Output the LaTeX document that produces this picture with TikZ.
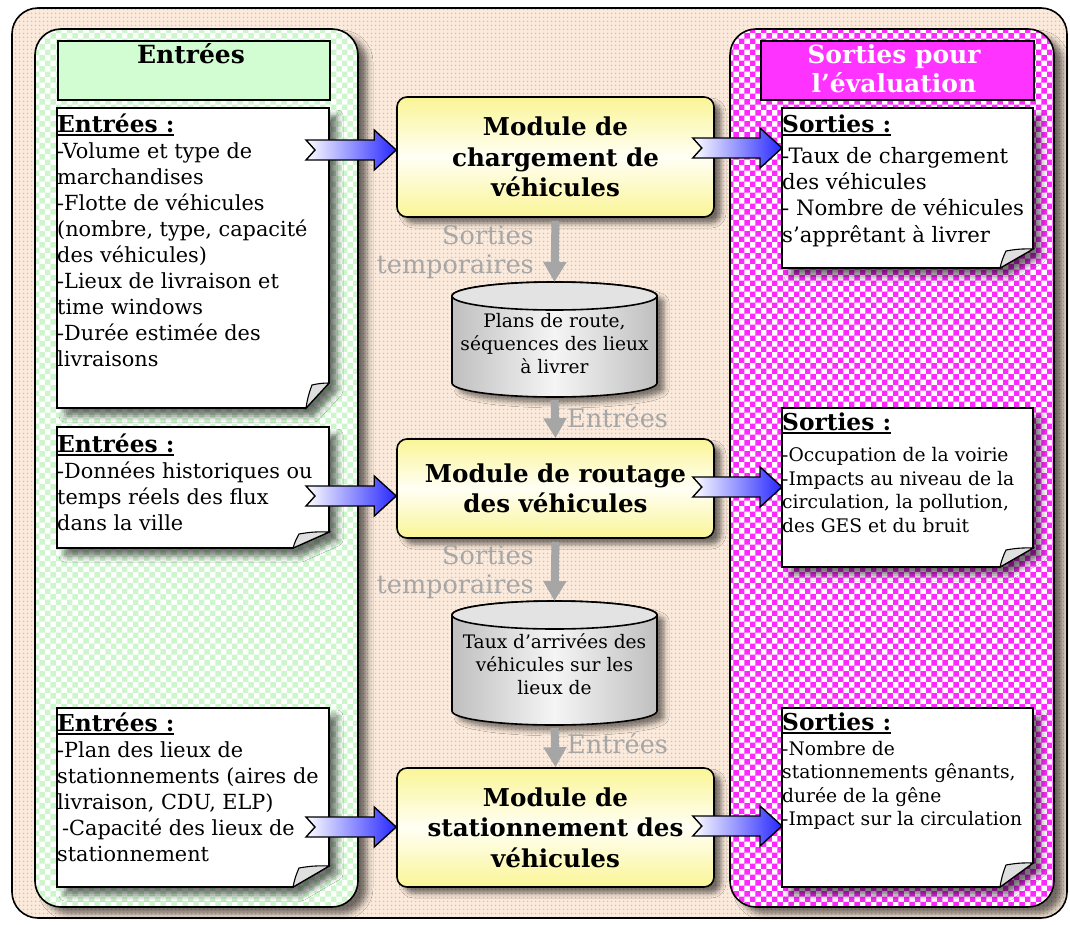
\documentclass[tikz,border=0pt]{standalone}
\usepackage{fontspec}
\setmainfont{DejaVu Serif}
\usetikzlibrary{arrows.meta,calc,patterns,patterns.meta,shadows.blur}
\definecolor{arrowblue}{RGB}{40,40,255}
\definecolor{hdrgreen}{RGB}{210,252,210}
\definecolor{hdrpink}{RGB}{255,51,255}
\definecolor{modyel}{RGB}{250,245,150}
\definecolor{flowgray}{RGB}{166,166,166}
\definecolor{peachbase}{RGB}{252,235,220}
\definecolor{peachdot}{RGB}{247,184,132}
\definecolor{mintdot}{RGB}{205,246,205}
\definecolor{pinkdot}{RGB}{255,40,255}
\newcommand\docfont{\fontsize{20.8}{26}\selectfont}
\newcommand\headfont{\bfseries\fontsize{23.3}{26}\selectfont}
\newcommand\ulhead[1]{\leavevmode\setbox0\hbox{\headfont #1}\rlap{\rule[-3.5pt]{\wd0}{1.6pt}}\box0}
\tikzset{
  frame/.style={fill=peachbase,
    postaction={pattern={Dots[radius=1.1pt,distance=4pt]}, pattern color=peachdot},
    postaction={draw=black, line width=1.6pt}},
  greenpanel/.style={fill=white,
    blur shadow={shadow xshift=9pt, shadow yshift=-7pt, shadow blur radius=6pt, shadow opacity=55},
    postaction={pattern=checkerboard, pattern color=mintdot},
    postaction={draw=black, line width=1.6pt}},
  pinkpanel/.style={fill=white,
    blur shadow={shadow xshift=9pt, shadow yshift=-7pt, shadow blur radius=6pt, shadow opacity=55},
    postaction={pattern=checkerboard, pattern color=pinkdot},
    postaction={draw=black, line width=1.6pt}},
  hdrbox/.style={draw=black, line width=1.6pt, rectangle, inner sep=0, anchor=north west},
  hdrtext/.style={anchor=base, inner sep=0, font=\bfseries\fontsize{25}{29}\selectfont},
  docnode/.style={rectangle, inner sep=0, outer sep=0, anchor=north west},
  paper/.style={draw=black, line width=1.6pt, fill=white,
    blur shadow={shadow xshift=8pt, shadow yshift=-8pt, shadow blur radius=6pt, shadow opacity=55}},
  flap/.style={draw=black, line width=1.1pt, fill=gray!25},
  doctext/.style={anchor=base west, inner sep=0},
  module/.style={draw=black, line width=1.6pt, rounded corners=10pt, minimum width=317,
    align=center, inner sep=0, font=\bfseries\fontsize{24.6}{30.5}\selectfont,
    top color=modyel, bottom color=modyel, middle color=yellow!4,
    blur shadow={shadow xshift=7pt, shadow yshift=-6pt, shadow blur radius=5pt, shadow opacity=55}},
  cylbody/.style={draw=black, line width=1.6pt, left color=gray!50, right color=gray!50, middle color=gray!8,
    blur shadow={shadow xshift=7pt, shadow yshift=-6pt, shadow blur radius=5pt, shadow opacity=50}},
  cyltop/.style={draw=black, line width=1.6pt, fill=gray!22},
  cyltext/.style={anchor=base, inner sep=0},
  flowarrow/.style={draw=flowgray, line width=8pt, -{Triangle[width=22pt,length=20pt]}, shorten <=3pt},
  flowlabel/.style={text=flowgray, inner sep=0, font=\fontsize{25.5}{29.5}\selectfont},
  blockarrow/.style={draw=black, line width=1.4pt, left color=white, right color=arrowblue},
}
\newcommand\docpaper[3]{%
  \path[paper] (#1.north west) -- (#1.north east) -- ($(#1.south east)+(0,-#3)$)
     -- ($(#1.south east)+(-#2,0)$) -- (#1.south west) -- cycle;
  \path[flap] ($(#1.south east)+(-#2,0)$) to[bend left=6] ($(#1.south east)+(-#2+6,-#3+2)$)
     to[bend left=6] ($(#1.south east)+(0,-#3)$) -- cycle;
}
\newcommand\cylshape[4]{%
  \node[rectangle, inner sep=0, outer sep=0, minimum width=205, minimum height=#4-#3, anchor=north west] (#1) at (#2,#3) {};
  \path[cylbody] (#2,#3+14) -- (#2,#4-14) arc[start angle=180,end angle=0,x radius=102.5,y radius=14]
     -- (#2+205,#3+14) arc[start angle=0,end angle=-180,x radius=102.5,y radius=14] -- cycle;
  \path[cyltop] (#2+102.5,#3+14) ellipse[x radius=102.5, y radius=14];
}
\newcommand\blkarrow[2]{%
  \path[blockarrow] let \p1=(#1), \p2=(#2) in
    (\x1,\y1+10pt) -- (\x2-22pt,\y1+10pt) -- (\x2-22pt,\y1+20pt) -- (\x2,\y1)
    -- (\x2-22pt,\y1-20pt) -- (\x2-22pt,\y1-10pt) -- (\x1,\y1-10pt) -- (\x1+9pt,\y1) -- cycle;
}
\begin{document}
\begin{tikzpicture}[x=1pt,y=-1pt]
\useasboundingbox (0,0) rectangle (1070,924);
% frame and panels
\path[frame, rounded corners=26pt] (12,8) rectangle (1067,918);
\path[greenpanel, rounded corners=26pt] (35,29) rectangle (358,907);
\path[pinkpanel, rounded corners=26pt] (730,29) rectangle (1054,907);
% headers
\node[hdrbox, fill=hdrgreen, minimum width=272, minimum height=59] (hin) at (57,40) {};
\node[hdrtext] (hintext) at (191,63) {Entrées};
\node[hdrbox, fill=hdrpink, minimum width=273, minimum height=59] (hout) at (760,40) {};
\node[hdrtext, text=white] (houttext) at (894,63)
  {\parbox[t]{270pt}{\centering Sorties pour\\l’évaluation}};
% documents left
\node[docnode, minimum width=272, minimum height=300] (d1) at (57,108) {};
\docpaper{d1}{23}{25}
\node[docnode, minimum width=272, minimum height=121] (d2) at (57,427) {};
\docpaper{d2}{36}{16}
\node[docnode, minimum width=272, minimum height=179] (d3) at (57,708) {};
\docpaper{d3}{36}{21}
% documents right
\node[docnode, minimum width=251, minimum height=160] (r1) at (782,108) {};
\docpaper{r1}{33}{19}
\node[docnode, minimum width=251, minimum height=159] (r2) at (782,408) {};
\docpaper{r2}{33}{19}
\node[docnode, minimum width=251, minimum height=179] (r3) at (782,708) {};
\docpaper{r3}{33}{24}
% document texts
\node[doctext] (t1) at (57,132) {\parbox[t]{275pt}{\ulhead{Entrées :}\\\docfont
-Volume et type de\\marchandises\\-Flotte de véhicules\\(nombre, type, capacité\\des véhicules)\\-Lieux de livraison et\\time windows\\-Durée estimée des\\livraisons}};
\node[doctext] (t2) at (57,452) {\parbox[t]{275pt}{\ulhead{Entrées :}\\\docfont
-Données historiques ou\\temps réels des flux\\dans la ville}};
\node[doctext] (t3) at (57,731) {\parbox[t]{275pt}{\ulhead{Entrées :}\\\docfont
-Plan des lieux de\\stationnements (aires de\\livraison, CDU, ELP)\\\hspace*{5pt}-Capacité des lieux de\\stationnement}};
\node[doctext] (t4) at (782,132) {\parbox[t]{255pt}{\ulhead{Sorties :}\\[5pt]\fontsize{21.2}{26.3}\selectfont
-Taux de chargement\\des véhicules\\- Nombre de véhicules\\s’apprêtant à livrer}};
\node[doctext] (t5) at (782,430) {\parbox[t]{255pt}{\ulhead{Sorties :}\\[8pt]\fontsize{18.7}{23.5}\selectfont
-Occupation de la voirie\\-Impacts au niveau de la\\circulation, la pollution,\\des GES et du bruit}};
\node[doctext] (t6) at (782,730) {\parbox[t]{255pt}{\ulhead{Sorties :}\\[1.5pt]\fontsize{18.7}{23.5}\selectfont
-Nombre de\\stationnements gênants,\\durée de la gêne\\-Impact sur la circulation}};
% modules
\node[module, minimum height=120] (m1) at (555.5,157) {Module de\\chargement de\\véhicules};
\node[module, minimum height=99] (m2) at (555.5,488.5) {Module de routage\\des véhicules};
\node[module, minimum height=119] (m3) at (555.5,827.5) {Module de\\stationnement des\\véhicules};
% cylinders
\cylshape{c1}{452}{282}{397}
\node[cyltext] (c1text) at (554.5,327) {\parbox[t]{204pt}{\centering\fontsize{18.6}{23}\selectfont Plans de route,\\séquences des lieux\\à livrer}};
\cylshape{c2}{452}{601}{725}
\node[cyltext] (c2text) at (554.5,648) {\parbox[t]{204pt}{\centering\fontsize{18.6}{23}\selectfont Taux d’arrivées des\\véhicules sur les\\lieux de}};
% grey flow arrows
\draw[flowarrow] (m1.south) -- (c1.north);
\draw[flowarrow] (c1.south) -- (m2.north);
\draw[flowarrow] (m2.south) -- (c2.north);
\draw[flowarrow] (c2.south) -- (m3.north);
\node[flowlabel, align=right, anchor=east] (l1) at (534,252) {Sorties\\temporaires};
\node[flowlabel, anchor=base west] (l2) at (567,427) {Entrées};
\node[flowlabel, align=right, anchor=east] (l3) at (534,572) {Sorties\\temporaires};
\node[flowlabel, anchor=base west] (l4) at (567,753) {Entrées};
% block arrows
\coordinate (a1) at ($(d1.north east)+(-23,42)$);
\coordinate (a2) at ($(d2.north east)+(-23,69)$);
\coordinate (a3) at ($(d3.north east)+(-23,119)$);
\coordinate (b1) at ($(m1.east)+(-22,-9)$);
\coordinate (b2) at ($(m2.east)+(-22,-1.5)$);
\coordinate (b3) at ($(m3.east)+(-22,-1.5)$);
\blkarrow{a1}{m1.west |- a1}
\blkarrow{a2}{m2.west |- a2}
\blkarrow{a3}{m3.west |- a3}
\blkarrow{b1}{r1.west |- b1}
\blkarrow{b2}{r2.west |- b2}
\blkarrow{b3}{r3.west |- b3}
\end{tikzpicture}
\end{document}
